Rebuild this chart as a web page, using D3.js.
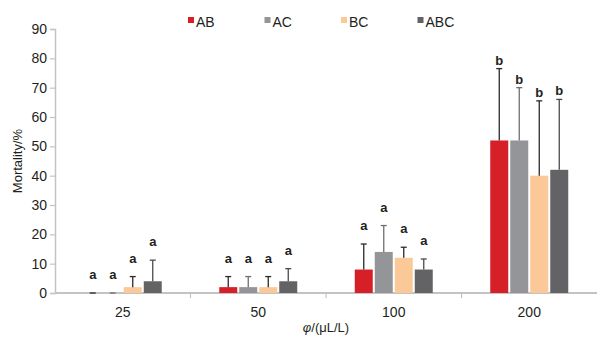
<!DOCTYPE html>
<html>
<head>
<meta charset="utf-8">
<script src="https://cdn.jsdelivr.net/npm/d3@7"></script>
<style>
  body { margin: 0; background: #fff; }
  text { font-family: "Liberation Sans", Arial, sans-serif; }
</style>
</head>
<body>
<script>
'use strict';

var width = 597,
    height = 339,
    margin = {top: 29, right: 0, bottom: 46, left: 55};

// Data
var doses = ["25", "50", "100", "200"];
var series = ["AB", "AC", "BC", "ABC"];
var colors = ["#d71f27", "#939598", "#fbc997", "#636365"];
var errColors = ["#2a2a2a", "#6f6f71", "#2a2a2a", "#4a4a4c"];
var yTicks = [0, 10, 20, 30, 40, 50, 60, 70, 80, 90];

var meanAB = [0, 2, 8, 52];
var meanAC = [0, 2, 14, 52];
var meanBC = [2, 2, 12, 40];
var meanABC = [4, 4, 8, 42];

var errAB = [0, 3.6, 8.7, 24.5];
var errAC = [0, 3.6, 9, 18];
var errBC = [3.6, 3.6, 3.6, 25.5];
var errABC = [7.2, 4.3, 3.6, 24];

var lettersAB = ["a", "a", "a", "b"];
var lettersAC = ["a", "a", "a", "b"];
var lettersBC = ["a", "a", "a", "b"];
var lettersABC = ["a", "a", "a", "b"];

var means = [meanAB, meanAC, meanBC, meanABC],
    errs = [errAB, errAC, errBC, errABC],
    letters = [lettersAB, lettersAC, lettersBC, lettersABC];

var rows = [];
doses.forEach(function(d, i) {
  series.forEach(function(s, j) {
    rows.push({dose: d, series: s, k: j, value: means[j][i], err: errs[j][i], letter: letters[j][i]});
  });
});

var svg = d3.select("body").append("svg")
  .attr("width", width)
  .attr("height", height);

var x = d3.scaleBand()
  .domain(doses)
  .range([margin.left, width - margin.right]);

var xs = d3.scaleBand()
  .domain(series)
  .range([0, 78])
  .paddingInner(0.1);

var y = d3.scaleLinear()
  .domain([0, 90])
  .range([height - margin.bottom, margin.top]);

var axisColor = "#c3c3c3";

// y axis
var yAxis = svg.append("g")
  .attr("transform", "translate(" + margin.left + ",0)")
  .call(d3.axisLeft(y).tickValues(yTicks).tickSize(5).tickPadding(3));
yAxis.select(".domain").attr("stroke", axisColor).attr("stroke-width", 1.5);
yAxis.selectAll(".tick line").attr("stroke", axisColor).attr("stroke-width", 1.2);
yAxis.selectAll(".tick text")
  .attr("fill", "#231f20")
  .style("font-size", "14px");

// x axis: ticks sit on the band edges
var xAxisG = svg.append("g")
  .attr("transform", "translate(0," + y(0) + ")");
xAxisG.append("line")
  .attr("x1", margin.left).attr("x2", width - margin.right)
  .attr("stroke", axisColor).attr("stroke-width", 2);
xAxisG.selectAll("line.edge")
  .data(doses.slice(1))
  .enter().append("line")
  .attr("class", "edge")
  .attr("x1", function(d) { return x(d); })
  .attr("x2", function(d) { return x(d); })
  .attr("y1", 0).attr("y2", 5)
  .attr("stroke", axisColor).attr("stroke-width", 1.2);
xAxisG.selectAll("text")
  .data(doses)
  .enter().append("text")
  .attr("x", function(d) { return x(d) + x.bandwidth() / 2; })
  .attr("y", 24)
  .attr("text-anchor", "middle")
  .attr("fill", "#231f20")
  .style("font-size", "14px")
  .text(function(d) { return d; });

function barX(d) {
  return x(d.dose) + (x.bandwidth() - 78) / 2 + xs(d.series);
}

// bars
svg.selectAll("rect.bar")
  .data(rows)
  .enter().append("rect")
  .attr("class", "bar")
  .attr("x", barX)
  .attr("width", xs.bandwidth())
  .attr("y", function(d) { return y(d.value); })
  .attr("height", function(d) { return y(0) - y(d.value); })
  .attr("fill", function(d) { return colors[d.k]; });

// error bars (upper only)
var eb = svg.selectAll("g.err")
  .data(rows)
  .enter().append("g")
  .attr("class", "err")
  .attr("transform", function(d) { return "translate(" + (barX(d) + xs.bandwidth() / 2) + ",0)"; });
eb.append("line")
  .attr("y1", function(d) { return y(d.value); })
  .attr("y2", function(d) { return y(d.value + d.err); })
  .attr("stroke", function(d) { return errColors[d.k]; })
  .attr("stroke-width", 1.3);
eb.append("line")
  .attr("x1", -3).attr("x2", 3)
  .attr("y1", function(d) { return y(d.value + d.err); })
  .attr("y2", function(d) { return y(d.value + d.err); })
  .attr("stroke", function(d) { return errColors[d.k]; })
  .attr("stroke-width", 1.3);

// significance letters
var letterGap = {a: 14, b: 4};
eb.append("text")
  .attr("y", function(d) { return y(d.value + d.err) - letterGap[d.letter]; })
  .attr("text-anchor", "middle")
  .attr("fill", "#231f20")
  .style("font-size", "13px")
  .style("font-weight", "bold")
  .text(function(d) { return d.letter; });

// legend
var legend = svg.selectAll("g.legend")
  .data(series)
  .enter().append("g")
  .attr("class", "legend")
  .attr("transform", function(d, i) { return "translate(" + (188 + i * 76.5) + ",17)"; });
legend.append("rect")
  .attr("width", 6).attr("height", 6)
  .attr("fill", function(d, i) { return colors[i]; });
legend.append("text")
  .attr("x", 8).attr("y", 10)
  .attr("fill", "#231f20")
  .style("font-size", "14px")
  .text(function(d) { return d; });

// axis titles
svg.append("text")
  .attr("transform", "translate(22," + ((margin.top + y(0)) / 2) + ") rotate(-90)")
  .attr("text-anchor", "middle")
  .attr("fill", "#231f20")
  .style("font-size", "13px")
  .text("Mortality/%");

var xt = svg.append("text")
  .attr("x", (margin.left + width) / 2)
  .attr("y", 332)
  .attr("text-anchor", "middle")
  .attr("fill", "#231f20")
  .style("font-size", "13px");
xt.append("tspan").style("font-style", "italic").text("φ");
xt.append("tspan").text("/(μL/L)");
</script>
</body>
</html>
